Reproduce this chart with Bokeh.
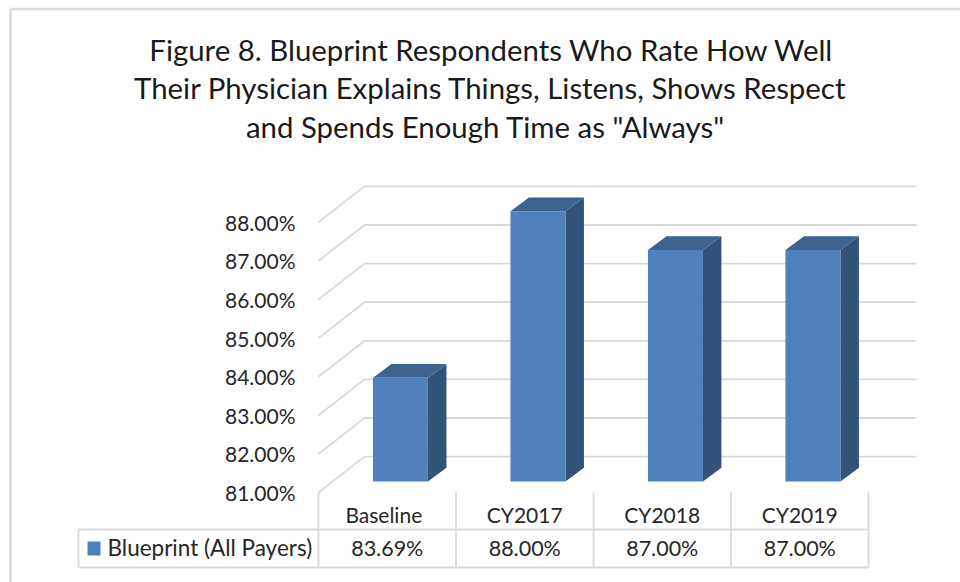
from bokeh.plotting import figure
from bokeh.embed import file_html
from bokeh.resources import INLINE
from bokeh.core.properties import value
from bokeh.models import Range1d, LinearAxis, FixedTicker, PrintfTickFormatter

# ---- data ----
categories = ["Baseline", "CY2017", "CY2018", "CY2019"]
series_name = "Blueprint (All Payers)"
series_values = [83.69, 88.00, 87.00, 87.00]
tick_values = [81, 82, 83, 84, 85, 86, 87, 88]
title_lines = [
    "Figure 8. Blueprint Respondents Who Rate How Well",
    "Their Physician Explains Things, Listens, Shows Respect",
    'and Spends Enough Time as "Always"',
]

# ---- styling / layout constants ----
W, H = 960, 582
FONT = "Lato"
TXT = "#262626"
GRID = "#D9D9D9"
FRONT, SIDE, TOP = "#4F81BD", "#33547A", "#3D6391"
CW = 137.5      # px per category column
UY = 38.6       # px per percentage point
X0, BASE = 318.0, 481.0   # page px of column 0 left edge, bar base


def px(x):
    return (x - X0) / CW


def py(y):
    return 81 + (BASE - y) / UY


DX, DY = 18.5 / CW, 13.7 / UY            # bar depth
GRID_DX, GRID_DY = 46 / CW, 24.9 / UY    # back wall offset from bar plane
FRONT_DY = -11 / UY                      # axis plane offset from bar plane
BAR_START, BAR_WIDTH = 0.396, 0.4        # bar position inside its column

p = figure(
    width=W, height=H, output_backend="svg", toolbar_location=None,
    x_range=Range1d(px(0), px(W)), y_range=Range1d(py(H), py(0)),
    x_axis_type=None, y_axis_type=None, min_border=0,
    background_fill_color="white", border_fill_color="white",
    outline_line_color=None,
)
p.grid.visible = False
p.extra_y_ranges = {"axis": Range1d(py(H) - FRONT_DY, py(0) - FRONT_DY)}

# chart outer border (top and left only are visible in the reference)
p.multi_line([[px(10), px(10)], [px(10), px(W)]],
             [[py(H), py(8.5)], [py(8.5), py(8.5)]], line_color=GRID, line_width=2.5)

# back wall gridlines with depth lines
grid_x = [[0, GRID_DX, px(916)] for _ in tick_values]
grid_y = [[v + FRONT_DY, v + GRID_DY, v + GRID_DY] for v in tick_values]
p.multi_line(grid_x, grid_y, line_color=GRID, line_width=1.8)

# 3D bars
lefts = [i + BAR_START for i in range(len(categories))]
rights = [i + BAR_START + BAR_WIDTH for i in range(len(categories))]
p.patches(
    [[r, r + DX, r + DX, r] for r in rights],
    [[81, 81 + DY, v + DY, v] for v in series_values],
    fill_color=SIDE, line_color=None,
)
p.patches(
    [[l, l + DX, r + DX, r] for l, r in zip(lefts, rights)],
    [[v, v + DY, v + DY, v] for v in series_values],
    fill_color=TOP, line_color=None,
)
p.quad(left=lefts, right=rights, bottom=81, top=series_values,
       fill_color=FRONT, line_color=None)

# value axis
yax = LinearAxis(
    y_range_name="axis", fixed_location=px(318),
    ticker=FixedTicker(ticks=tick_values),
    formatter=PrintfTickFormatter(format="%.2f%%"),
    axis_line_color=None, major_tick_line_color=None, minor_tick_line_color=None,
    major_label_text_font=FONT, major_label_text_font_size="21px",
    major_label_text_color=TXT, major_label_standoff=22 - 5,
)
p.add_layout(yax, "left")

# category axis (header row of the data table)
header_ticks = [0.475, 1.5, 2.5, 3.5]
xax = LinearAxis(
    fixed_location=py(492),
    ticker=FixedTicker(ticks=header_ticks),
    major_label_overrides=dict(zip(header_ticks, categories)),
    axis_line_color=None, major_tick_line_color=None, minor_tick_line_color=None,
    major_label_text_font=FONT, major_label_text_font_size="21px",
    major_label_text_color=TXT, major_label_standoff=3,
)
p.add_layout(xax, "below")

# data table lines
n = len(categories)
p.multi_line(
    [[i, i] for i in range(n + 1)] + [[px(78), px(78)], [px(78), n], [px(78), n]],
    [[py(492), py(567)] for _ in range(n + 1)]
    + [[py(529), py(567)], [py(529), py(529)], [py(567), py(567)]],
    line_color=GRID, line_width=1.8,
)
# legend key + series name
p.quad(left=[px(87)], right=[px(100)], bottom=[py(555)], top=[py(541)],
       fill_color=FRONT, line_color=None)
p.text(x=[px(107)], y=[py(547)], text=[series_name], text_font=value(FONT),
       text_font_size="22.5px", text_color=TXT, text_baseline="middle", text_align="left")
# table values
p.text(x=[i + 0.5 for i in range(n)], y=[py(547.5)] * n,
       text=[f"{v:.2f}%" for v in series_values], text_font=value(FONT),
       text_font_size="21.5px", text_color=TXT, text_baseline="middle", text_align="center")

# title
p.text(x=[px(491), px(490), px(485)], y=[py(49), py(87), py(126)], text=title_lines,
       text_font=value(FONT), text_font_size="29.4px", text_color="#1a1a1a",
       text_baseline="middle", text_align="center")

open("out.html", "w").write(file_html(p, INLINE))
